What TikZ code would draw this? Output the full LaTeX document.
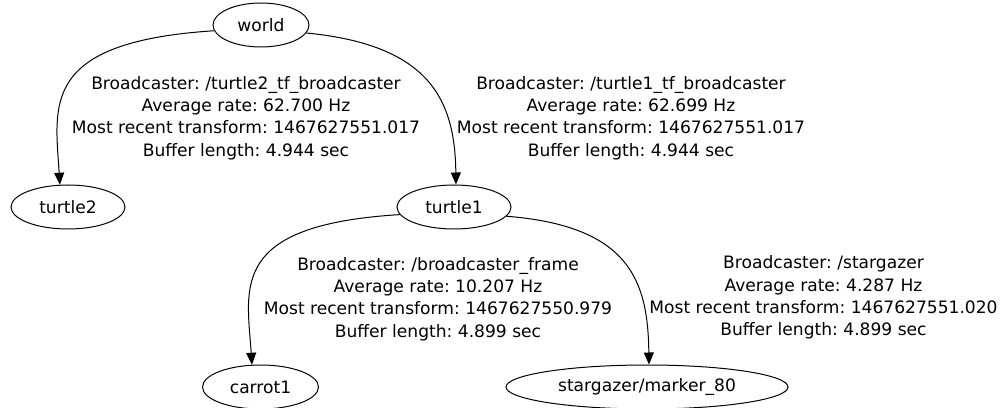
\documentclass[tikz,border=0pt]{standalone}
\usepackage{fontspec}
\setmainfont{DejaVu Sans}
\usetikzlibrary{shapes.geometric,arrows.meta}
\begin{document}
\frenchspacing
\begin{tikzpicture}[x=1pt,y=1pt,
  frame/.style={ellipse,draw,line width=1pt,inner sep=0pt,minimum height=44pt,
    font=\fontsize{17.1}{22.2}\selectfont},
  info/.style={align=center,inner sep=0pt,font=\fontsize{17.1}{22.3}\selectfont},
  tfedge/.style={line width=1pt,-{Triangle[length=12pt,width=10pt]}}]
\useasboundingbox (0,0) rectangle (1001,407);

% frames
\node[frame,minimum width=96pt]  (world)     at (261,382)   {world};
\node[frame,minimum width=114pt] (turtle2)   at (68,200)    {turtle2};
\node[frame,minimum width=114pt] (turtle1)   at (454,200)   {turtle1};
\node[frame,minimum width=116pt] (carrot1)   at (260.5,20)  {carrot1};
\node[frame,minimum width=282pt] (stargazer) at (647,20)    {stargazer/marker\_80};

% transform links
\draw[tfedge] (world.187) .. controls (40,365) and (55,302) .. (turtle2.110);
\draw[tfedge] (world.350) .. controls (430,362) and (455,307) .. (turtle1.85);
\draw[tfedge] (turtle1.188) .. controls (228,182) and (247,119) .. (carrot1.111);
\draw[tfedge] (turtle1.350) .. controls (630,181) and (648,126) .. (stargazer.85);

% broadcaster details
\node[info] (l1) at (246,289) {Broadcaster: /turtle2\_tf\_broadcaster\\Average rate: 62.700 Hz\\Most recent transform: 1467627551.017\\Buffer length: 4.944 sec};
\node[info] (l2) at (631,289) {Broadcaster: /turtle1\_tf\_broadcaster\\Average rate: 62.699 Hz\\Most recent transform: 1467627551.017\\Buffer length: 4.944 sec};
\node[info] (l3) at (438,108) {Broadcaster: /broadcaster\_frame\\Average rate: 10.207 Hz\\Most recent transform: 1467627550.979\\Buffer length: 4.899 sec};
\node[info] (l4) at (823.5,109.5) {Broadcaster: /stargazer\\Average rate: 4.287 Hz\\Most recent transform: 1467627551.020\\Buffer length: 4.899 sec};
\end{tikzpicture}
\end{document}
